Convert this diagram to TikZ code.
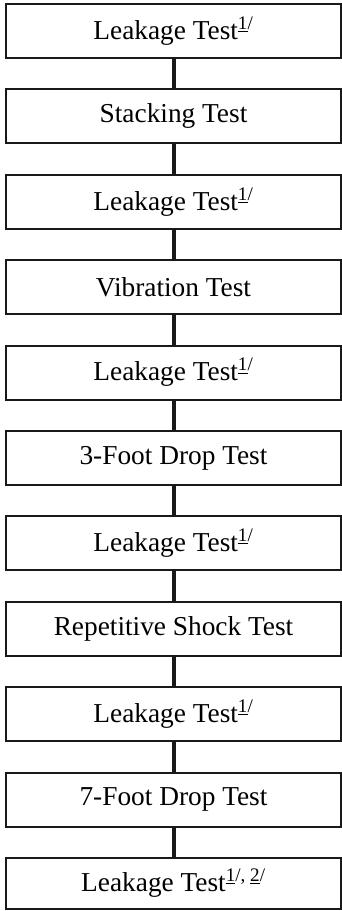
\documentclass[tikz,border=0pt]{standalone}
\usepackage{fontspec}
\setmainfont{Liberation Serif}
\usetikzlibrary{positioning}
\newcommand{\fnote}[1]{\textsuperscript{\underline{#1}/}}

\begin{document}
\begin{tikzpicture}[x=0.75pt,y=-0.75pt]
\tikzset{
  testbox/.style={rectangle,draw=black!90,line width=1.5pt,minimum width=251.25pt,minimum height=40.5pt,inner sep=1pt,font=\fontsize{20.5}{24}\selectfont},
  link/.style={line width=3pt,draw=black!90}
}
\useasboundingbox (0,0) rectangle (342,911);
\node[testbox] (n_L0) at (173.5,31.0) {Leakage Test\fnote{1}};
\node[testbox] (n_ST) at (173.5,116.4) {Stacking Test};
\node[testbox] (n_L1) at (173.5,201.8) {Leakage Test\fnote{1}};
\node[testbox] (n_VT) at (173.5,287.2) {Vibration Test};
\node[testbox] (n_L2) at (173.5,372.6) {Leakage Test\fnote{1}};
\node[testbox] (n_D3) at (173.5,458.0) {3-Foot Drop Test};
\node[testbox] (n_L3) at (173.5,543.4) {Leakage Test\fnote{1}};
\node[testbox] (n_RS) at (173.5,628.8) {Repetitive Shock Test};
\node[testbox] (n_L4) at (173.5,714.2) {Leakage Test\fnote{1}};
\node[testbox] (n_D7) at (173.5,799.6) {7-Foot Drop Test};
\node[testbox,minimum height=38.25pt] (n_L5) at (173.5,883.5) {Leakage Test\textsuperscript{\underline{1}/, \underline{2}/}};
\draw[link] (n_L0) -- (n_ST);
\draw[link] (n_ST) -- (n_L1);
\draw[link] (n_L1) -- (n_VT);
\draw[link] (n_VT) -- (n_L2);
\draw[link] (n_L2) -- (n_D3);
\draw[link] (n_D3) -- (n_L3);
\draw[link] (n_L3) -- (n_RS);
\draw[link] (n_RS) -- (n_L4);
\draw[link] (n_L4) -- (n_D7);
\draw[link] (n_D7) -- (n_L5);
\end{tikzpicture}
\end{document}
